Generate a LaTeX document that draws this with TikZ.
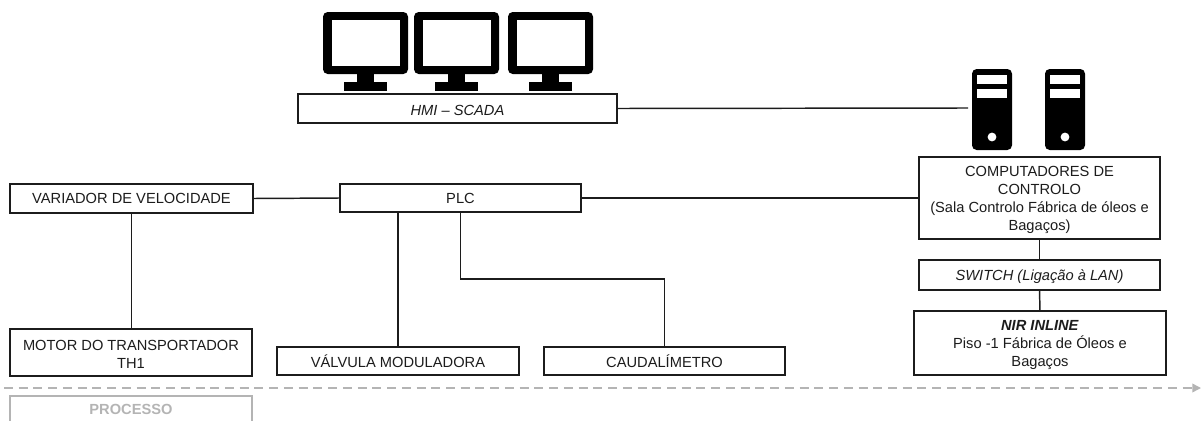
\documentclass[tikz,border=0pt]{standalone}
\usepackage{fontspec}
\setmainfont{Liberation Sans}
\usetikzlibrary{arrows.meta}
\definecolor{ink}{HTML}{1C1C1C}
\definecolor{soft}{HTML}{B4B4B4}
\newcommand{\dnA}{\rule{0pt}{11pt}}
\tikzset{
  every node/.style={font=\fontsize{11pt}{13.6pt}\selectfont, text=ink},
  wh/.style 2 args={minimum width=#1*0.75pt, minimum height=#2*0.75pt},
  box/.style={draw=ink, line width=1.1pt, fill=white, align=center, inner sep=0pt, outer sep=0pt, anchor=north west},
  wire/.style={draw=ink, line width=1.1pt},
  icon/.style={fill=black, draw=none},
  hole/.style={fill=white, draw=none}
}
\begin{document}
\begin{tikzpicture}[x=0.75pt,y=-0.75pt]
\useasboundingbox (0,0) rectangle (1203,421);
\clip (0,0) rectangle (1203,421);
% monitors
\foreach \mx in {323,414,508}{
  \fill[icon,rounded corners=3.5pt] (\mx,12) rectangle ++(85,62);
  \fill[hole] (\mx+9,20) rectangle ++(68,46);
  \fill[icon] (\mx+34,73) rectangle ++(17,10);
  \fill[icon] (\mx+21,82) rectangle ++(43,9);
}
% servers
\foreach \sx in {972,1045}{
  \fill[icon,rounded corners=3.5pt] (\sx,69) rectangle ++(40,81);
  \fill[hole] (\sx+5,75) rectangle ++(29.5,9);
  \fill[hole] (\sx+5,89) rectangle ++(29.5,9);
  \fill[hole] (\sx+20,137) circle (3.3pt);
}
\coordinate (srv) at (968,108);
% boxes
\node[box,wh={319}{29}] (hmi) at (298,94) {\dnA\itshape HMI – SCADA};
\node[box,wh={243}{29}] (var) at (10,184) {VARIADOR DE VELOCIDADE};
\node[box,wh={241}{28}] (plc) at (340,184) {PLC};
\node[box,wh={241}{82}] (comp) at (919,157) {\dnA COMPUTADORES DE\\CONTROLO\\(Sala Controlo Fábrica de óleos e\\Bagaços)};
\node[box,wh={241}{30}] (sw) at (919,260) {\dnA\itshape SWITCH (Ligação à LAN)};
\node[box,wh={252}{64}] (nir) at (914,311) {\dnA\textbf{\textit{NIR INLINE}}\\Piso -1 Fábrica de Óleos e\\Bagaços};
\node[box,wh={242}{47}] (mot) at (10,329) {\rule{0pt}{10pt}MOTOR DO TRANSPORTADOR\\TH1};
\node[box,wh={242}{28}] (val) at (277,347) {VÁLVULA MODULADORA};
\node[box,wh={241}{28}] (cau) at (544,347) {CAUDALÍMETRO};
% connectors
\draw[wire] (hmi.east) -- (srv);
\draw[wire] (var.east) -- (plc.west);
\draw[wire] (plc.east) -- (plc.east -| comp.west);
\draw[wire] (comp.south) -- (sw.north);
\draw[wire] (sw.south) -- (nir.north);
\draw[wire] (var.south) -- (var.south |- mot.north);
\draw[wire] (val.north |- plc.south) -- (val.north);
\draw[wire] (plc.south) -- ++(0,67) -| (cau.north);
% process axis
\coordinate (axs) at (4,388);
\coordinate (axe) at (1201,388);
\draw[soft,line width=1.1pt,dash pattern=on 6.75pt off 4.3pt,-{Triangle[length=6.5pt,width=6.5pt]}] (axs) -- (axe);
\draw[soft,line width=1.1pt] (10,425) -- (10,396) -- (252,396) -- (252,425);
\node[text=soft,font=\fontsize{11pt}{13pt}\selectfont\bfseries] (proc) at (131,409) {PROCESSO};
\end{tikzpicture}
\end{document}
